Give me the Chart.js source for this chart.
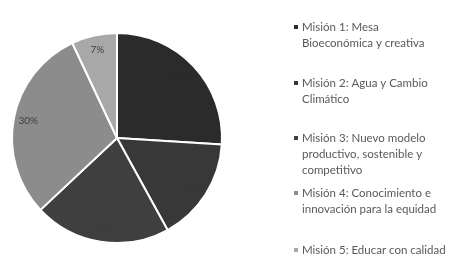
<!DOCTYPE html>
<html>
<head>
<meta charset="utf-8">
<script src="https://cdn.jsdelivr.net/npm/chart.js@4"></script>
<style>
  html, body { margin: 0; padding: 0; background: #fff; }
  #wrap { position: relative; width: 451px; height: 258px; }
</style>
</head>
<body>
<div id="wrap"><canvas id="pieChart" width="451" height="258"></canvas></div>
<script>
// Data
var labels = [
    'Misión 1: Mesa Bioeconómica y creativa',
    'Misión 2: Agua y Cambio Climático',
    'Misión 3: Nuevo modelo productivo, sostenible y competitivo',
    'Misión 4: Conocimiento e innovación para la equidad',
    'Misión 5: Educar con calidad'
];
var legendLines = [
    ['Misión 1: Mesa', 'Bioeconómica y creativa'],
    ['Misión 2: Agua y Cambio', 'Climático'],
    ['Misión 3: Nuevo modelo', 'productivo, sostenible y', 'competitivo'],
    ['Misión 4: Conocimiento e', 'innovación para la equidad'],
    ['Misión 5: Educar con calidad']
];
var values = [26, 16, 21, 30, 7];
var colors = ['#2b2b2b', '#383838', '#3f3f3f', '#8c8c8c', '#a8a8a8'];
// dark text, which nearly vanishes on the dark slices
var labelColors = ['#282828', '#353535', '#3c3c3c', '#404040', '#404040'];

var FONT = 'Lato, "Liberation Sans", sans-serif';

// slice labels, drawn near the outer edge
var sliceLabels = {
    id: 'sliceLabels',
    afterDatasetsDraw: function(chart) {
        var ctx = chart.ctx;
        var meta = chart.getDatasetMeta(0);
        var total = values.reduce(function(a, b) { return a + b; }, 0);
        ctx.save();
        ctx.font = '10px ' + FONT;
        ctx.textAlign = 'center';
        ctx.textBaseline = 'middle';
        meta.data.forEach(function(arc, i) {
            var mid = (arc.startAngle + arc.endAngle) / 2;
            var r = arc.outerRadius * 0.86;
            ctx.fillStyle = labelColors[i];
            ctx.fillText(Math.round(values[i] / total * 100) + '%',
                arc.x + Math.cos(mid) * r, arc.y + Math.sin(mid) * r);
        });
        ctx.restore();
    }
};

// legend on the right with wrapped lines
var sideLegend = {
    id: 'sideLegend',
    afterDraw: function(chart) {
        var ctx = chart.ctx;
        var tops = [27, 83, 138, 193, 250];
        ctx.save();
        ctx.font = '11.5px ' + FONT;
        ctx.textBaseline = 'middle';
        legendLines.forEach(function(lines, i) {
            ctx.fillStyle = colors[i];
            ctx.fillRect(294, tops[i] - 2, 4, 4);
            ctx.fillStyle = '#595959';
            lines.forEach(function(line, j) {
                ctx.fillText(line, 302, tops[i] + j * 16);
            });
        });
        ctx.restore();
    }
};

var ctx = document.getElementById('pieChart').getContext('2d');
var pieChart = new Chart(ctx, {
    type: 'pie',
    data: {
        labels: labels,
        datasets: [{
            data: values,
            backgroundColor: colors,
            borderColor: '#ffffff',
            borderWidth: 2
        }]
    },
    options: {
        responsive: false,
        animation: false,
        layout: {
            padding: { left: 11, right: 228, top: 32, bottom: 14 }
        },
        plugins: {
            legend: { display: false },
            tooltip: { enabled: false }
        }
    },
    plugins: [sliceLabels, sideLegend]
});
</script>
</body>
</html>
